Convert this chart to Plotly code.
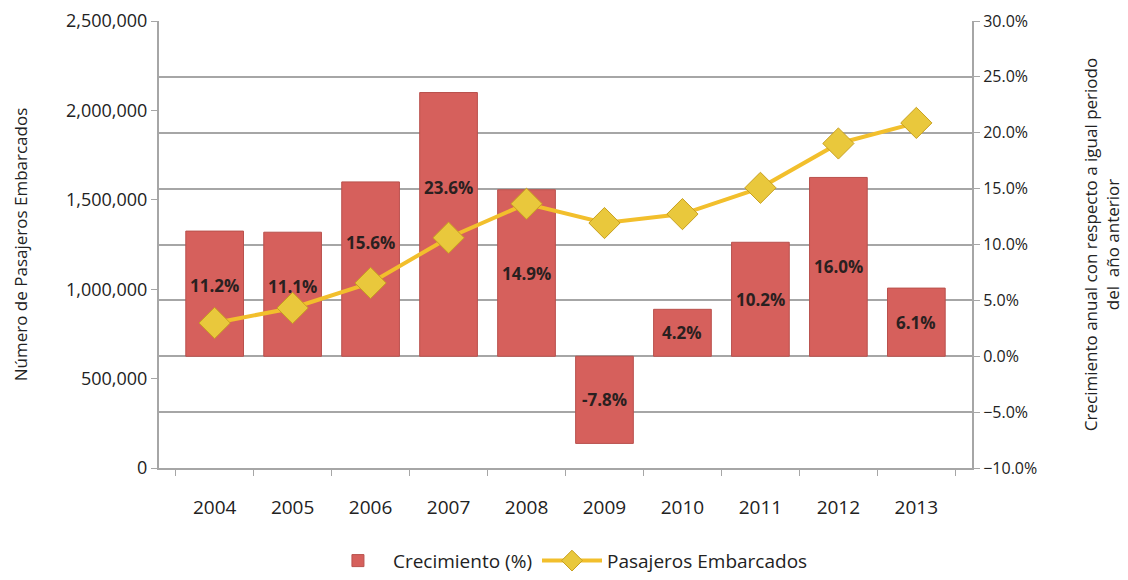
import plotly.graph_objs as go

# Data
years = ['2004', '2005', '2006', '2007', '2008', '2009', '2010', '2011', '2012', '2013']
growth = [0.112, 0.111, 0.156, 0.236, 0.149, -0.078, 0.042, 0.102, 0.160, 0.061]
passengers = [811000, 895000, 1035000, 1288000, 1478000, 1370000, 1420000, 1567000, 1815000, 1930000]

font_family = 'Open Sans'
text_color = '#222222'
grid_color = '#A6A6A6'
label_color = '#2A2020'

# some bar labels were nudged upward (px) in the original to clear the line
label_nudge = {'2004': 8, '2005': 8, '2006': 27, '2007': 37}

fig = go.Figure()

# Growth bars on the percent axis (primary, drawn underneath)
fig.add_trace(go.Bar(
    x=years,
    y=growth,
    name='Crecimiento (%)',
    yaxis='y',
    marker=dict(color='#D6605C', line=dict(color='#B9514D', width=1)),
))

# Passenger line on the overlaying axis (drawn on top)
fig.add_trace(go.Scatter(
    x=years,
    y=passengers,
    name='Pasajeros Embarcados',
    yaxis='y2',
    mode='lines+markers',
    line=dict(color='#F2BF2C', width=4),
    marker=dict(symbol='diamond', size=24, color='#E9C83C', line=dict(color='#C8A020', width=1)),
))

# bar labels, anchored at the bar middle (x as category index)
for i, (yr, g) in enumerate(zip(years, growth)):
    fig.add_annotation(
        x=i, y=g / 2, xref='x', yref='y',
        text=f'<b>{g * 100:.1f}%</b>',
        showarrow=False,
        yshift=label_nudge.get(yr, 0),
        font=dict(family=font_family, size=17, color=label_color),
    )

# page body adds an 8px margin, so the figure is 16px smaller than the window
fig.update_layout(
    width=1120,
    height=572,
    margin=dict(l=151, r=156, t=13, b=112, autoexpand=False),
    paper_bgcolor='white',
    plot_bgcolor='white',
    font=dict(family=font_family, size=17, color=text_color),
    bargap=0.26,
    showlegend=True,
    legend=dict(
        orientation='h',
        x=0.503, xanchor='center',
        y=-0.165, yanchor='top',
        font=dict(size=19, color=text_color),
        itemwidth=60,
        traceorder='normal',
    ),
    xaxis=dict(
        type='category',
        automargin=False,
        showline=True,
        linecolor=grid_color,
        linewidth=2,
        ticks='outside',
        tickson='boundaries',
        ticklen=6,
        tickcolor=grid_color,
        tickfont=dict(size=19),
        ticklabelstandoff=21,
        showgrid=False,
    ),
    yaxis=dict(
        side='right',
        automargin=False,
        range=[-0.10, 0.30],
        dtick=0.05,
        tickformat='.1%',
        ticklabeloverflow='allow',
        showgrid=True,
        gridcolor=grid_color,
        gridwidth=1.5,
        zeroline=False,
        showline=True,
        linecolor=grid_color,
        linewidth=2,
        ticks='outside',
        ticklen=6,
        tickcolor=grid_color,
        tickfont=dict(size=16),
        title=dict(
            text='Crecimiento anual con respecto a igual periodo<br>del  año anterior',
            font=dict(size=17),
            standoff=49,
        ),
    ),
    yaxis2=dict(
        overlaying='y',
        side='left',
        automargin=False,
        range=[0, 2500000],
        dtick=500000,
        tickformat=',',
        ticklabeloverflow='allow',
        showgrid=False,
        zeroline=False,
        showline=True,
        linecolor=grid_color,
        linewidth=2,
        ticks='outside',
        ticklen=6,
        tickcolor=grid_color,
        tickfont=dict(size=18),
        title=dict(
            text='Número de Pasajeros Embarcados',
            font=dict(size=17),
            standoff=34,
        ),
    ),
)

fig.write_html('out.html')
